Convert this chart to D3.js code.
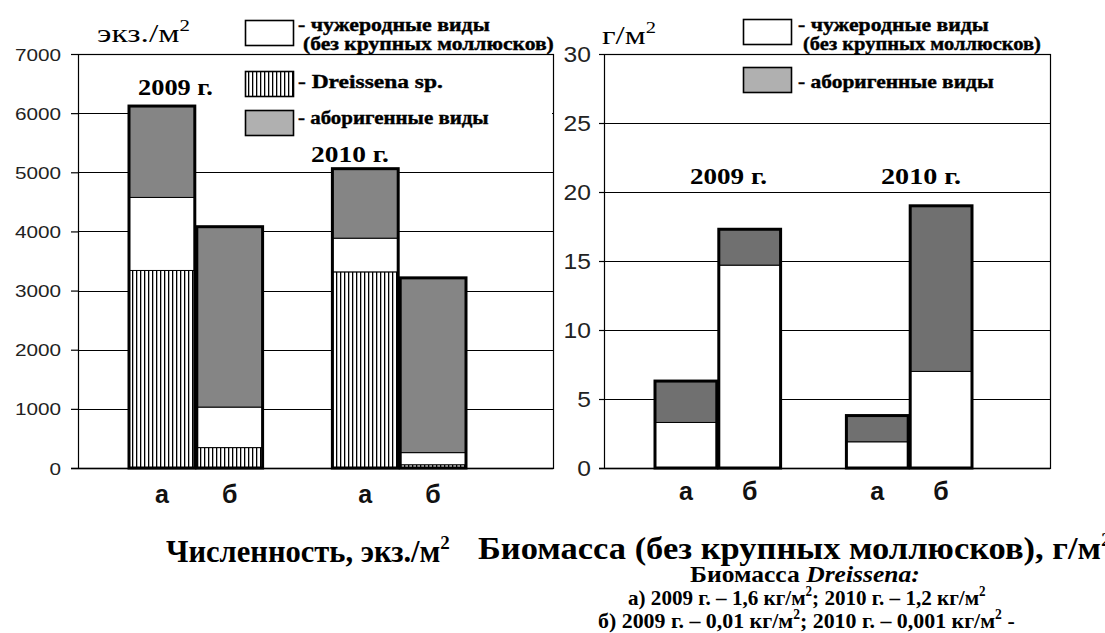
<!DOCTYPE html>
<html><head><meta charset="utf-8">
<script src="https://cdn.jsdelivr.net/npm/d3@7"></script>
<style>body{margin:0;background:#fff}svg{display:block}</style>
</head><body>
<svg id="c" width="1105" height="633"></svg>
<script>
// ---------- data ----------
const slots = ["2009-а", "2009-б", "", "2010-а", "2010-б"];
const barKeys = ["2009-а", "2009-б", "2010-а", "2010-б"];
const barLabels = ["а", "б", "а", "б"];
const yearLabels = ["2009 г.", "2010 г."];
// Численность, экз./м2
const countDreissena = [3340, 345, 3316, 55];
const countAlien = [1235, 685, 570, 205];
const countNative = [1545, 3050, 1175, 2955];
const countTicks = [0, 1000, 2000, 3000, 4000, 5000, 6000, 7000];
// Биомасса, г/м2
const massAlien = [3.3, 14.7, 1.9, 7.0];
const massNative = [3.0, 2.6, 1.9, 12.0];
const massTicks = [0, 5, 10, 15, 20, 25, 30];
const legendAlien = ["- чужеродные виды", "(без крупных моллюсков)"];
const legendDreissena = "- Dreissena sp.";
const legendNative = "- аборигенные виды";

// ---------- helpers ----------
const svg = d3.select("#c");
const defs = svg.append("defs");
const pat = defs.append("pattern").attr("id", "hatch").attr("patternUnits", "userSpaceOnUse")
  .attr("width", 4).attr("height", 4);
pat.append("rect").attr("width", 4).attr("height", 4).attr("fill", "#fff");
pat.append("rect").attr("x", 0).attr("width", 1.3).attr("height", 4).attr("fill", "#000");

const SERIF = '"Liberation Serif", "Times New Roman", "DejaVu Serif", serif';
const SANS = '"Liberation Sans", Arial, sans-serif';

function fit(sel, x0, x1) {
  const bb = sel.node().getBBox();
  const sx = (x1 - x0) / bb.width;
  sel.attr("transform", `translate(${x0},0) scale(${sx},1) translate(${-bb.x},0)`);
}
function stretchRight(sel, f) {
  sel.each(function () {
    const bb = this.getBBox();
    const xr = bb.x + bb.width;
    d3.select(this).attr("transform", `translate(${xr},0) scale(${f},1) translate(${-xr},0)`);
  });
}
function supText(parent, parts, size, weight, y) {
  const t = parent.append("text").attr("x", 0).attr("y", y)
    .style("font-family", SERIF).attr("font-size", size).attr("font-weight", weight).attr("fill", "#000");
  let prevSup = false;
  parts.forEach(([s, k]) => {
    const ts = t.append("tspan").text(s);
    if (k === "s") { ts.attr("dy", -size * 0.42).attr("font-size", size * 0.62); prevSup = true; }
    else {
      if (prevSup) { ts.attr("dy", size * 0.42); prevSup = false; }
      if (k === "i") ts.attr("font-style", "italic");
    }
  });
  return t;
}

function chart(cfg) {
  const g = svg.append("g");
  const x = d3.scaleBand().domain(slots).range(cfg.xr).paddingInner(0).paddingOuter(0);
  const y = d3.scaleLinear().domain([0, cfg.max]).range([468, 54]);
  g.append("g").selectAll("line").data(cfg.ticks).join("line")
    .attr("x1", cfg.left).attr("x2", cfg.right)
    .attr("y1", d => Math.round(y(d)) + 0.5).attr("y2", d => Math.round(y(d)) + 0.5)
    .attr("stroke", "#000").attr("stroke-width", 1.2);
  if (cfg.legendBg) {
    g.append("rect").attr("x", cfg.legendBg[0]).attr("y", cfg.legendBg[1])
      .attr("width", cfg.legendBg[2]).attr("height", cfg.legendBg[3]).attr("fill", "#fff");
  }
  g.append("rect").attr("x", cfg.left + 0.5).attr("y", Math.round(y(cfg.max)) + 0.5)
    .attr("width", cfg.right - cfg.left).attr("height", Math.round(y(0)) - Math.round(y(cfg.max)))
    .attr("fill", "none").attr("stroke", "#000").attr("stroke-width", 1.2);
  const rows = barKeys.map((k, i) => {
    const r = { key: k };
    cfg.series.forEach(s => r[s.name] = s.values[i]);
    return r;
  });
  const stack = d3.stack().keys(cfg.series.map(s => s.name));
  const layers = stack(rows);
  g.append("g").selectAll("g").data(layers).join("g")
    .attr("fill", (d, i) => cfg.series[i].fill)
    .selectAll("rect").data(d => d).join("rect")
    .attr("x", d => x(d.data.key) + 1).attr("width", x.bandwidth() - 2)
    .attr("y", d => y(d[1])).attr("height", d => y(d[0]) - y(d[1]))
    .attr("stroke", "#000").attr("stroke-width", 1);
  g.append("g").selectAll("rect").data(rows).join("rect")
    .attr("x", d => x(d.key) + 1).attr("width", x.bandwidth() - 2)
    .attr("y", d => y(d3.sum(cfg.series, s => d[s.name])))
    .attr("height", d => y(0) - y(d3.sum(cfg.series, s => d[s.name])))
    .attr("fill", "none").attr("stroke", "#000").attr("stroke-width", 3);
  const ax = g.append("g").attr("transform", `translate(${cfg.left},0)`)
    .call(d3.axisLeft(y).tickValues(cfg.ticks).tickSize(cfg.tickSize).tickPadding(cfg.tickPad).tickFormat(d3.format("d")));
  ax.select(".domain").remove();
  ax.selectAll(".tick line").attr("stroke", "#000").attr("stroke-width", 1.2);
  ax.selectAll(".tick text").style("font-family", SANS).attr("font-size", cfg.tickFont)
    .attr("fill", "#222").attr("dy", "0.36em");
  stretchRight(ax.selectAll(".tick text"), cfg.tickStretch);
  g.append("line").attr("x1", cfg.left - cfg.tickSize).attr("x2", cfg.right)
    .attr("y1", Math.round(y(0)) + 0.5).attr("y2", Math.round(y(0)) + 0.5)
    .attr("stroke", "#000").attr("stroke-width", 1.4);
  g.append("g").selectAll("text").data(barKeys).join("text")
    .attr("x", d => x(d) + x.bandwidth() / 2).attr("y", cfg.catY)
    .attr("text-anchor", "middle").style("font-family", SANS).attr("font-weight", "bold")
    .attr("font-size", 25).attr("fill", "#111")
    .text((d, i) => barLabels[i]);
  return { g, x, y };
}

// ---------- left chart ----------
chart({
  xr: [128, 467], max: 7000, left: 78, right: 553, ticks: countTicks,
  tickSize: 7, tickPad: 10, tickFont: 17, tickStretch: 1.22, catY: 503,
  legendBg: [196, 56, 356, 84],
  series: [
    { name: "dreissena", values: countDreissena, fill: "url(#hatch)" },
    { name: "alien", values: countAlien, fill: "#fff" },
    { name: "native", values: countNative, fill: "#858585" }
  ]
});
// ---------- right chart ----------
chart({
  xr: [654, 973], max: 30, left: 604, right: 1050, ticks: massTicks,
  tickSize: 5, tickPad: 8, tickFont: 22, tickStretch: 1.12, catY: 500,
  series: [
    { name: "alien", values: massAlien, fill: "#fff" },
    { name: "native", values: massNative, fill: "#707070" }
  ]
});

// ---------- annotations ----------
const ann = svg.append("g");
function serifFit(txt, x0, x1, y, size, heavy) {
  const t = ann.append("text").attr("x", 0).attr("y", y).style("font-family", SERIF)
    .attr("font-weight", "bold").attr("font-size", size).attr("fill", "#000").text(txt);
  if (heavy) t.attr("stroke", "#000").attr("stroke-width", heavy);
  fit(t, x0, x1);
  return t;
}
serifFit(yearLabels[0], 138, 213, 95, 24);
serifFit(yearLabels[1], 311, 389, 162, 24);
serifFit(yearLabels[0], 690, 767, 184, 24);
serifFit(yearLabels[1], 881, 961, 184, 24);

fit(supText(ann, [["экз./м", "n"], ["2", "s"]], 26, "normal", 42), 97, 190);
fit(supText(ann, [["г/м", "n"], ["2", "s"]], 26, "normal", 44), 602, 656);

function legendBox(x, y0, fill) {
  ann.append("rect").attr("x", x + 0.5).attr("y", y0 + 0.5).attr("width", 48).attr("height", 25)
    .attr("fill", fill).attr("stroke", "#000").attr("stroke-width", 1.6);
}
legendBox(245, 20, "#fff");
legendBox(245, 71, "url(#hatch)");
legendBox(245, 110, "#b0b0b0");
serifFit(legendAlien[0], 298, 490, 31, 19, 0.4);
serifFit(legendAlien[1], 303, 554, 50, 19, 0.4);
serifFit(legendDreissena, 298, 443, 88, 19, 0.4);
serifFit(legendNative, 298, 489, 124, 19, 0.4);

legendBox(743, 19, "#fff");
legendBox(743, 67, "#b0b0b0");
serifFit(legendAlien[0], 798, 989, 31, 19, 0.4);
serifFit(legendAlien[1], 803, 1041, 50, 19, 0.4);
serifFit(legendNative, 798, 994, 88, 19, 0.4);

fit(supText(ann, [["Численность, экз./м", "n"], ["2", "s"]], 31, "bold", 562), 166, 450);
fit(supText(ann, [["Биомасса (без крупных моллюсков), г/м", "n"], ["2", "s"]], 31, "bold", 559), 478, 1112);
fit(supText(ann, [["Биомасса ", "n"], ["Dreissena:", "i"]], 23, "bold", 582), 690, 920);
fit(supText(ann, [["а) 2009 г. – 1,6 кг/м", "n"], ["2", "s"], ["; 2010 г. – 1,2 кг/м", "n"], ["2", "s"]], 22, "bold", 605), 628, 986);
fit(supText(ann, [["б) 2009 г. – 0,01 кг/м", "n"], ["2", "s"], ["; 2010 г. – 0,001 кг/м", "n"], ["2", "s"], [" -", "n"]], 22, "bold", 628), 598, 1015);
</script>
</body></html>
